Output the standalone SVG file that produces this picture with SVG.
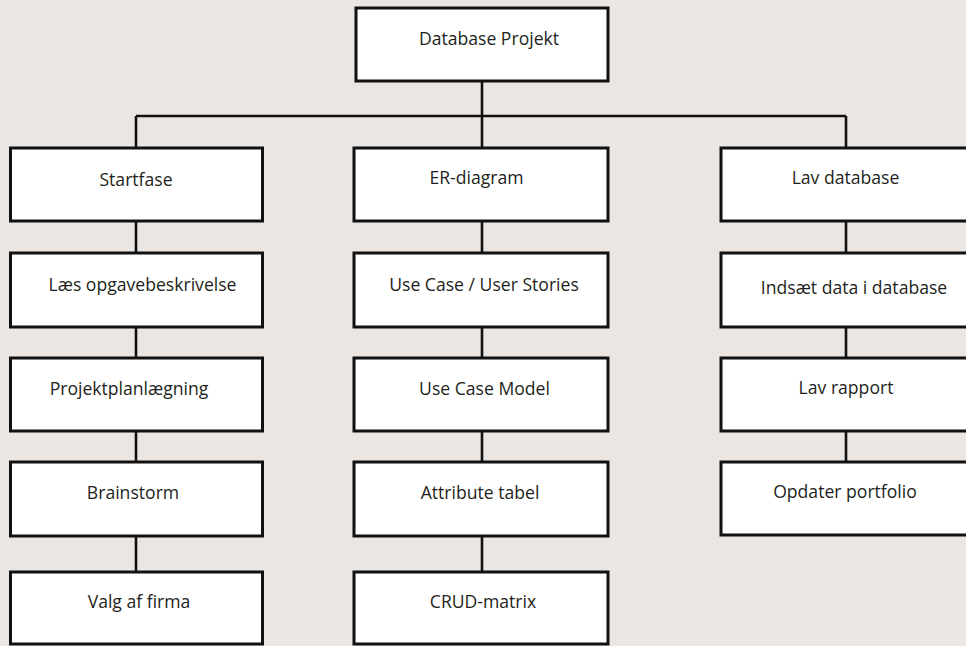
<svg xmlns="http://www.w3.org/2000/svg" width="966" height="646" viewBox="0 0 966 646">
<style>
.bg{fill:#ebe6e2}
.box{fill:#ffffff;stroke:#111111;stroke-width:3}
.ln{stroke:#111111;stroke-width:2.6;fill:none}
.t{font-family:"Open Sans","Noto Sans","Liberation Sans",sans-serif;font-size:17.6px;fill:#231f20;text-anchor:middle}
</style>
<rect class="bg" x="0" y="0" width="966" height="646"/>
<g id="connectors">
<path class="ln" d="M482 81V148M136 116H846M136 116V148M846 116V148"/>
<path class="ln" d="M136 221V253M136 327V358M136 431V462M136 536V572"/>
<path class="ln" d="M482 221V253M482 327V358M482 431V462M482 536V572"/>
<path class="ln" d="M846 221V253M846 327V358M846 431V462"/>
</g>
<g id="n-root"><rect class="box" x="356" y="8" width="252" height="73"/><text class="t" x="489" y="45">Database Projekt</text></g>
<g id="n-startfase"><rect class="box" x="10.5" y="148" width="252" height="73"/><text class="t" x="136" y="186">Startfase</text></g>
<g id="n-laes"><rect class="box" x="10.5" y="253" width="252" height="74"/><text class="t" x="142.5" y="291">Læs opgavebeskrivelse</text></g>
<g id="n-projekt"><rect class="box" x="10.5" y="358" width="252" height="73"/><text class="t" x="129" y="395">Projektplanlægning</text></g>
<g id="n-brainstorm"><rect class="box" x="10.5" y="462" width="252" height="74"/><text class="t" x="133" y="499">Brainstorm</text></g>
<g id="n-valg"><rect class="box" x="10.5" y="572" width="252" height="72"/><text class="t" x="139" y="608">Valg af firma</text></g>
<g id="n-er"><rect class="box" x="354" y="148" width="254" height="73"/><text class="t" x="476.5" y="184">ER-diagram</text></g>
<g id="n-usecase"><rect class="box" x="354" y="253" width="254" height="74"/><text class="t" x="484" y="291">Use Case / User Stories</text></g>
<g id="n-ucmodel"><rect class="box" x="354" y="358" width="254" height="73"/><text class="t" x="484.5" y="395">Use Case Model</text></g>
<g id="n-attr"><rect class="box" x="354" y="462" width="254" height="74"/><text class="t" x="480" y="499">Attribute tabel</text></g>
<g id="n-crud"><rect class="box" x="354" y="572" width="254" height="72"/><text class="t" x="483" y="608">CRUD-matrix</text></g>
<g id="n-lavdb"><rect class="box" x="721" y="148" width="252" height="73"/><text class="t" x="845.5" y="184">Lav database</text></g>
<g id="n-indsaet"><rect class="box" x="721" y="253" width="252" height="74"/><text class="t" x="854" y="294">Indsæt data i database</text></g>
<g id="n-rapport"><rect class="box" x="721" y="358" width="252" height="73"/><text class="t" x="846" y="394">Lav rapport</text></g>
<g id="n-portfolio"><rect class="box" x="721" y="462" width="252" height="73"/><text class="t" x="845" y="498">Opdater portfolio</text></g>
</svg>
